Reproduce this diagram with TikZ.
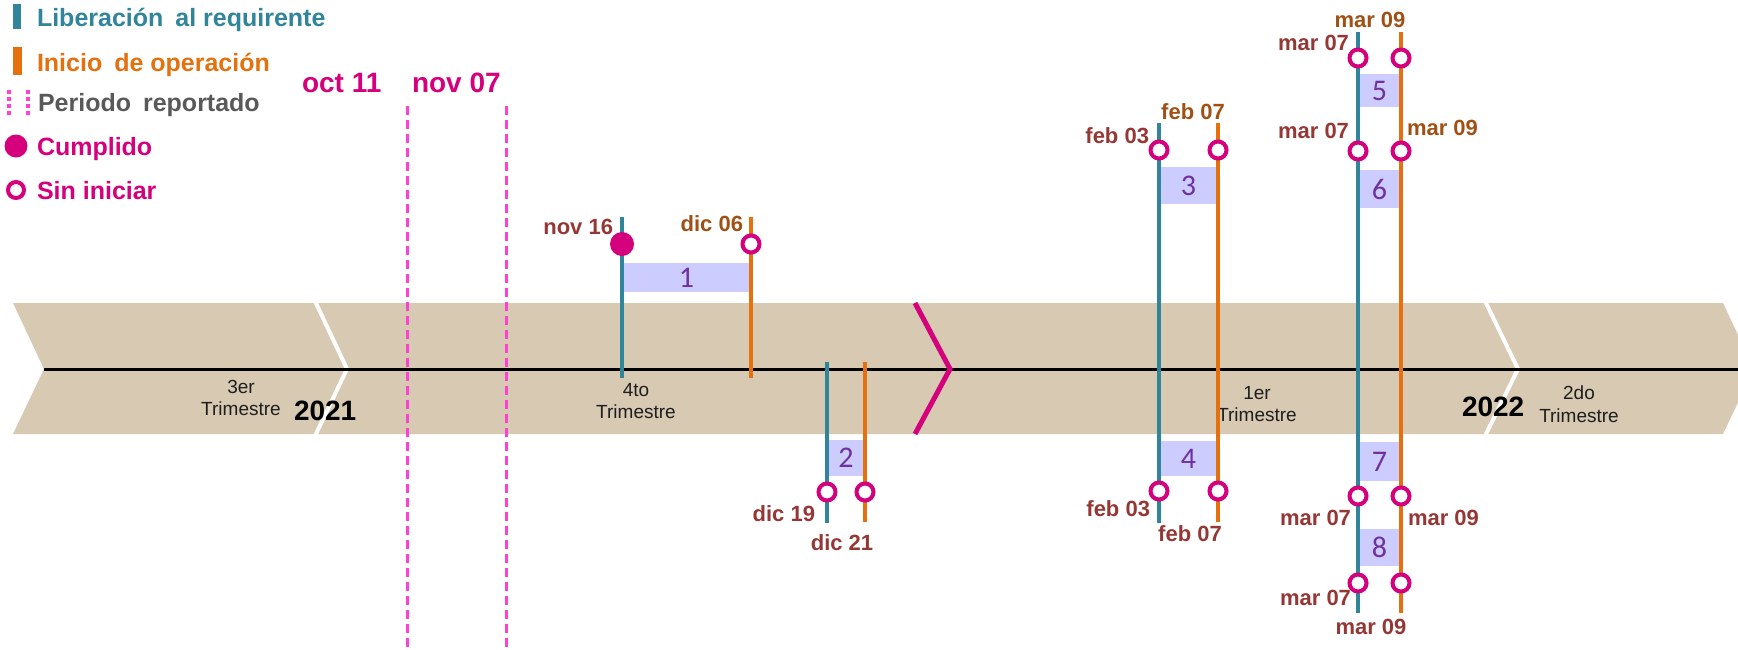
\documentclass[tikz,border=0pt]{standalone}
\usepackage{fontspec}
\setmainfont{Liberation Sans}
\newfontfamily\numfont{Carlito}
\definecolor{bandc}{RGB}{215,201,178}
\definecolor{tealc}{RGB}{49,133,155}
\definecolor{orngc}{RGB}{228,112,14}
\definecolor{magc}{RGB}{212,0,124}
\definecolor{pinkd}{RGB}{255,64,210}
\definecolor{boxc}{RGB}{204,204,255}
\definecolor{purpc}{RGB}{112,48,160}
\definecolor{dredc}{RGB}{149,55,53}
\definecolor{obrownc}{RGB}{160,80,20}
\definecolor{grayc}{RGB}{89,89,89}
\definecolor{tdark}{RGB}{30,30,30}
\begin{document}
\begin{tikzpicture}[x=1pt,y=-1pt,
  every node/.style={inner sep=0pt, outer sep=0pt},
  date/.style={font=\bfseries\fontsize{22}{26}\selectfont, text=dredc},
  dateo/.style={font=\bfseries\fontsize{22}{26}\selectfont, text=obrownc},
  leg/.style={font=\bfseries\fontsize{25}{30}\selectfont, anchor=base west},
  period/.style={font=\bfseries\fontsize{28}{32}\selectfont, text=magc, anchor=base west},
  trim/.style={font=\fontsize{19}{22.5}\selectfont, text=tdark, align=center, anchor=north},
  yearlbl/.style={font=\bfseries\fontsize{28}{32}\selectfont, text=black, anchor=base west},
  numbox/.style={rectangle, fill=boxc, text=purpc, font=\numfont\fontsize{30}{34}\selectfont},
  opencirc/.style={circle, draw=magc, line width=4pt, fill=white, minimum size=17pt},
  donecirc/.style={circle, fill=magc, minimum size=24pt},
  tline/.style={draw=tealc, line width=4.5pt},
  oline/.style={draw=orngc, line width=4.5pt},
  perline/.style={draw=pinkd, line width=3pt, dash pattern=on 9pt off 5pt},
]
\useasboundingbox (0,0) rectangle (1738,649);

% band
\fill[bandc] (13,303) -- (1723,303) -- (1754,369) -- (1723,434) -- (13,434) -- (44,369) -- cycle;
\draw[white, line width=4pt] (315,301) -- (347,369) -- (315,436);
\draw[white, line width=4pt] (1485,301) -- (1518,369) -- (1485,436);
\coordinate (axl) at (44,369);
\coordinate (axr) at (1738,369);
\draw[black, line width=3pt] (axl) -- (axr);
\draw[magc, line width=5pt] (915,303) -- (950,369) -- (915,434);

% band texts
\node[trim] (q3) at (241,380) {3er\\Trimestre};
\node[yearlbl] (y21) at (294,420) {2021};
\node[trim] (q4) at (636,383) {4to\\Trimestre};
\node[trim] (q1) at (1257,386) {1er\\Trimestre};
\node[yearlbl] (y22) at (1462,416) {2022};
\node[trim] (q2) at (1579,386) {2do\\Trimestre};

% legend
\fill[tealc] (13,4) rectangle (21,29);
\node[leg, text=tealc] (l1) at (37,26) {Liberación\hspace{12pt}al requirente};
\fill[orngc] (13,47) rectangle (22,75);
\node[leg, text=orngc] (l2) at (37,71) {Inicio\hspace{12pt}de operación};
\draw[pinkd, line width=4pt, dash pattern=on 4pt off 3pt] (9,90) -- (9,117);
\draw[pinkd, line width=4pt, dash pattern=on 4pt off 3pt] (28,90) -- (28,117);
\node[leg, text=grayc] (l3) at (38,111) {Periodo\hspace{12pt}reportado};
\node[donecirc, minimum size=23pt] (lc) at (16,146) {};
\node[leg, text=magc] (l4) at (37,155) {Cumplido};
\node[opencirc, minimum size=16pt] (lo) at (16,190) {};
\node[leg, text=magc] (l5) at (37,199) {Sin iniciar};

% reported period
\node[period] (p1) at (302,92) {oct 11};
\node[period] (p2) at (412,92) {nov 07};
\coordinate (pa1) at (407,106); \coordinate (pa2) at (407,649);
\coordinate (pb1) at (506,106); \coordinate (pb2) at (506,649);
\draw[perline] (pa1) -- (pa2);
\draw[perline] (pb1) -- (pb2);

% item 1
\node[numbox, minimum width=129pt, minimum height=29pt] (b1) at (686.5,277.5) {1};
\coordinate (t1a) at (622,217); \coordinate (t1b) at (622,378);
\coordinate (o1a) at (751,217); \coordinate (o1b) at (751,378);
\draw[tline] (t1a) -- (t1b);
\draw[oline] (o1a) -- (o1b);
\node[donecirc] (c1t) at (622,244) {};
\node[opencirc] (c1o) at (751,244) {};
\node[date, anchor=base east] (d1) at (613,234) {nov 16};
\node[dateo, anchor=base east] (d2) at (743,231) {dic 06};

% item 2
\node[numbox, minimum width=38pt, minimum height=36pt] (b2) at (846,458) {2};
\coordinate (t2a) at (827,362); \coordinate (t2b) at (827,523);
\coordinate (o2a) at (865,362); \coordinate (o2b) at (865,522);
\draw[tline] (t2a) -- (t2b);
\draw[oline] (o2a) -- (o2b);
\node[opencirc] (c2t) at (827,492) {};
\node[opencirc] (c2o) at (865,492) {};
\node[date, anchor=base east] (d3) at (815,521) {dic 19};
\node[date, anchor=base] (d4) at (842,550) {dic 21};

% items 3 and 4
\node[numbox, minimum width=59pt, minimum height=37pt] (b3) at (1188.5,185.5) {3};
\node[numbox, minimum width=59pt, minimum height=35pt] (b4) at (1188.5,458.5) {4};
\coordinate (t3a) at (1159,123); \coordinate (t3b) at (1159,523);
\coordinate (o3a) at (1218,123); \coordinate (o3b) at (1218,522);
\draw[tline] (t3a) -- (t3b);
\draw[oline] (o3a) -- (o3b);
\node[opencirc] (c3t) at (1159,150) {};
\node[opencirc] (c3o) at (1218,150) {};
\node[opencirc] (c4t) at (1159,491) {};
\node[opencirc] (c4o) at (1218,491) {};
\node[date, anchor=base east] (d5) at (1149,143) {feb 03};
\node[dateo, anchor=base] (d6) at (1193,119) {feb 07};
\node[date, anchor=base east] (d7) at (1150,516) {feb 03};
\node[date, anchor=base] (d8) at (1190,541) {feb 07};

% items 5 to 8
\node[numbox, minimum width=43pt, minimum height=33pt] (b5) at (1379.5,90.5) {5};
\node[numbox, minimum width=43pt, minimum height=38pt] (b6) at (1379.5,189) {6};
\node[numbox, minimum width=43pt, minimum height=39pt] (b7) at (1379.5,461.5) {7};
\node[numbox, minimum width=43pt, minimum height=37pt] (b8) at (1379.5,547.5) {8};
\coordinate (t5a) at (1358,32); \coordinate (t5b) at (1358,613);
\coordinate (o5a) at (1401,32); \coordinate (o5b) at (1401,613);
\draw[tline] (t5a) -- (t5b);
\draw[oline] (o5a) -- (o5b);
\foreach \yy/\nm in {58/a,151/b,496/c,583/d}{
  \node[opencirc] (c5t\nm) at (1358,\yy) {};
  \node[opencirc] (c5o\nm) at (1401,\yy) {};
}
\node[dateo, anchor=base] (d9) at (1370,27) {mar 09};
\node[date, anchor=base east] (d10) at (1349,50) {mar 07};
\node[date, anchor=base east] (d11) at (1349,138) {mar 07};
\node[dateo, anchor=base west] (d12) at (1407,135) {mar 09};
\node[date, anchor=base east] (d13) at (1351,525) {mar 07};
\node[date, anchor=base west] (d14) at (1408,525) {mar 09};
\node[date, anchor=base east] (d15) at (1351,605) {mar 07};
\node[date, anchor=base] (d16) at (1371,634) {mar 09};
\end{tikzpicture}
\end{document}
